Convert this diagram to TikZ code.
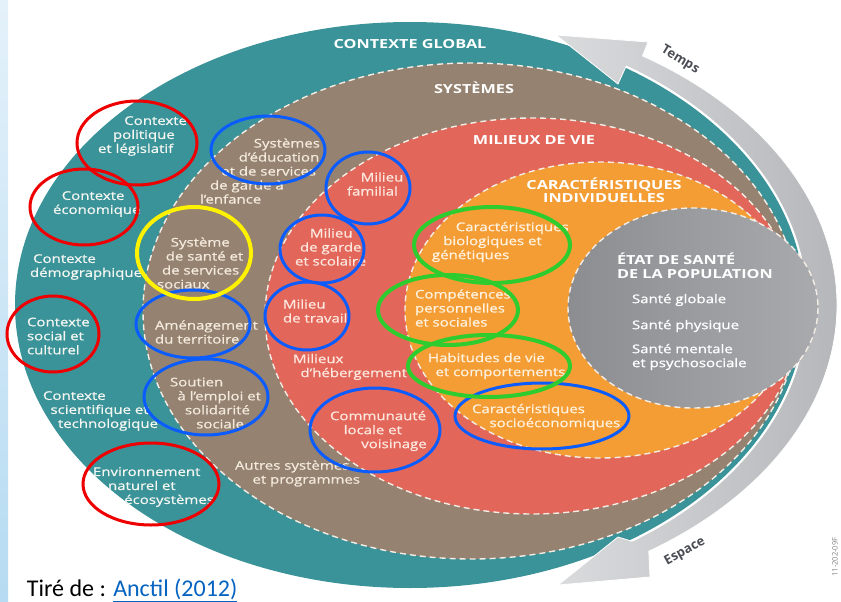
\documentclass[tikz,border=0pt]{standalone}
\usepackage{fontspec}
\setmainfont{Open Sans}
\newfontfamily\semifont[FakeBold=0.7]{Open Sans}
\newfontfamily\capfont{Carlito}
\usetikzlibrary{calc}

\definecolor{stripA}{HTML}{E4F1FA}
\definecolor{stripB}{HTML}{B6DBF2}
\definecolor{cTeal}{HTML}{3A9398}
\definecolor{cBrown}{HTML}{958270}
\definecolor{cRed}{HTML}{E2675A}
\definecolor{cOrange}{HTML}{F49D34}
\definecolor{greyL}{HTML}{8C8D91}
\definecolor{greyR}{HTML}{A9AAAD}
\definecolor{bandL}{HTML}{DADBDD}
\definecolor{bandR}{HTML}{B5B6B9}
\definecolor{dashc}{HTML}{F3EDE5}
\definecolor{txtTeal}{HTML}{F4F6F2}
\definecolor{txtBrown}{HTML}{F3EADD}
\definecolor{txtRed}{HTML}{FDE8DF}
\definecolor{txtOrange}{HTML}{FFF2DF}
\definecolor{arrowtxt}{HTML}{4B4D54}
\definecolor{annRed}{HTML}{EE0000}
\definecolor{annBlue}{HTML}{0A5CFF}
\definecolor{annYellow}{HTML}{FFF200}
\definecolor{annGreen}{HTML}{2ECC2E}
\definecolor{link}{HTML}{0563C1}

\tikzset{
  every node/.style={inner sep=0pt, outer sep=0pt},
  lbl/.style={align=left, anchor=west, xscale=1.25, font=\semifont\fontsize{12}{14}\selectfont},
  onteal/.style={lbl, text=txtTeal},
  onbrown/.style={lbl, text=txtBrown},
  onred/.style={lbl, text=txtRed},
  onorange/.style={lbl, text=txtOrange},
  ongrey/.style={lbl, text=white},
  layertitle/.style={align=center, xscale=1.3, font=\bfseries\fontsize{12.5}{13.5}\selectfont, text=white},
  dashline/.style={draw=dashc, line width=1.4pt, dash pattern=on 6pt off 4pt},
  ringR/.style={draw=annRed, line width=3pt},
  ringB/.style={draw=annBlue, line width=3pt},
  ringY/.style={draw=annYellow, line width=4pt},
  ringG/.style={draw=annGreen, line width=4pt},
  arrowlbl/.style={font=\bfseries\fontsize{13}{14}\selectfont, text=arrowtxt}
}

\begin{document}
\begin{tikzpicture}[x=1pt, y=-1pt]
\useasboundingbox (0,0) rectangle (841,602);
\fill[white] (0,0) rectangle (841,602);
\shade[top color=stripA, bottom color=stripB] (0,0) rectangle (8,602);

% nested layers
\coordinate (cG) at (410,305);
\fill[cTeal] (cG) ellipse[x radius=395, y radius=283];

\fill[cBrown] (471,311) ellipse[x radius=328, y radius=248];
\draw[dashline] (471,311) ellipse[x radius=328, y radius=248];

\fill[cRed] (532,316) ellipse[x radius=267, y radius=198];
\draw[dashline] (532,316) ellipse[x radius=267, y radius=198];

\fill[cOrange] (600,310) ellipse[x radius=195, y radius=148];
\draw[dashline] (600,310) ellipse[x radius=195, y radius=148];

% time / space band with its two arrow heads
\shade[left color=bandL, right color=bandR, draw=white, line width=0.8pt]
  ($(cG)+(-57:427 and 297)$) arc[start angle=-57, end angle=56, x radius=427, y radius=297]
  -- (650,577) -- (558,585) -- (618,537)
  -- ($(cG)+(56:397 and 285)$) arc[start angle=56, end angle=-57, x radius=397, y radius=285]
  -- (618,84) -- (556,35) -- (648,42) -- cycle;

% health status disc
\shade[left color=greyL, right color=greyR] (693,308) ellipse[x radius=125, y radius=100];
\draw[dashline] (693,308) ellipse[x radius=125, y radius=100];

% layer titles
\node[layertitle] (tGlobal) at (410,44) {CONTEXTE GLOBAL};
\node[layertitle] (tSys) at (474,88) {SYSTÈMES};
\node[layertitle] (tMil) at (534,140) {MILIEUX DE VIE};
\node[layertitle] (tCar) at (604,190) {CARACTÉRISTIQUES\\INDIVIDUELLES};
\node[layertitle, align=left, anchor=west] (tEtat) at (617,265.5) {ÉTAT DE SANTÉ\\DE LA POPULATION};

% global context
\node[onteal] (pol) at (98,136) {\hspace*{21pt}Contexte\\\hspace*{12pt}politique\\et législatif};
\node[onteal] (eco) at (53,204) {\hspace*{7pt}Contexte\\économique};
\node[onteal] (demo) at (30,267) {\hspace*{2.5pt}Contexte\\démographique};
\node[onteal] (soc) at (27,336) {Contexte\\social et\\culturel};
\node[onteal] (sci) at (43,411) {Contexte\\\hspace*{6pt}scientifique et\\\hspace*{12pt}technologique};
\node[onteal] (env) at (93,487) {Environnement\\\hspace*{12pt}naturel et\\\hspace*{25pt}écosystèmes};

% systems
\node[onbrown] (edu) at (200,171) {\hspace*{43pt}Systèmes\\\hspace*{31pt}d’éducation\\\hspace*{17pt}et de services\\\hspace*{8pt}de garde à\\l’enfance};
\node[onbrown] (sss) at (157,263) {\hspace*{11pt}Système\\\hspace*{7pt}de santé et\\\hspace*{4pt}de services\\sociaux};
\node[onbrown] (amen) at (155,332) {Aménagement\\du territoire};
\node[onbrown] (emploi) at (170,403) {Soutien\\\hspace*{6pt}à l’emploi et\\\hspace*{12pt}solidarité\\\hspace*{21pt}sociale};
\node[onbrown] (autres) at (235,473.5) {Autres systèmes\\\hspace*{14pt}et programmes};

% living environments
\node[onred] (fam) at (347,184) {\hspace*{11pt}Milieu\\familial};
\node[onred] (garde) at (295,247) {\hspace*{12pt}Milieu\\\hspace*{4pt}de garde\\et scolaire};
\node[onred] (trav) at (283,311) {Milieu\\de travail};
\node[onred] (heb) at (293,367) {Milieux\\\hspace*{6pt}d’hébergement};
\node[onred] (comm) at (330,431) {Communauté\\\hspace*{11pt}locale et\\\hspace*{25pt}voisinage};

% individual characteristics
\node[onorange] (bio) at (432,242) {\hspace*{19pt}Caractéristiques\\\hspace*{9pt}biologiques et\\génétiques};
\node[onorange] (comp) at (415,308) {Compétences\\personnelles\\et sociales};
\node[onorange] (hab) at (428,366) {Habitudes de vie\\\hspace*{6pt}et comportements};
\node[onorange] (seco) at (472,417) {Caractéristiques\\\hspace*{14pt}socioéconomiques};

% health status
\node[ongrey] (sg) at (632,300) {Santé globale};
\node[ongrey] (sp) at (632,326) {Santé physique};
\node[ongrey] (sm) at (632,357) {Santé mentale\\et psychosociale};

% band labels
\node[arrowlbl, rotate=-31] (temps) at (680,60) {Temps};
\node[arrowlbl, rotate=29] (espace) at (685,552) {Espace};
\node[rotate=90, font=\fontsize{7.5}{8}\selectfont, text=gray] (code) at (835,557) {11-202-09F};

% highlight rings
\draw[ringR] (137,143) ellipse[x radius=60, y radius=42];
\draw[ringR] (84,207) ellipse[x radius=54, y radius=38];
\draw[ringR] (53,334) ellipse[x radius=46, y radius=38];
\draw[ringR] (151,484) ellipse[x radius=68, y radius=41];

\draw[ringB] (268,150) ellipse[x radius=57, y radius=34];
\draw[ringB] (193,324) ellipse[x radius=57, y radius=34];
\draw[ringB] (206,397) ellipse[x radius=62, y radius=38];
\draw[ringB] (368,188) ellipse[x radius=42, y radius=36];
\draw[ringB] (322,249) ellipse[x radius=42, y radius=34];
\draw[ringB] (307,316) ellipse[x radius=42, y radius=34];
\draw[ringB] (375,430) ellipse[x radius=65, y radius=42];
\draw[ringB] (542,416) ellipse[x radius=87, y radius=33];

\draw[ringY] (194,253) ellipse[x radius=57, y radius=46];

\draw[ringG] (492,245) ellipse[x radius=78, y radius=38];
\draw[ringG] (448,310) ellipse[x radius=70, y radius=35];
\draw[ringG] (489,366) ellipse[x radius=81, y radius=31];

% source line
\node[anchor=base west, font=\capfont\fontsize{24}{27}\selectfont] (src) at (27,596)
  {Tiré de : \textcolor{link}{\underline{Anctil (2012)}}};
\end{tikzpicture}
\end{document}
